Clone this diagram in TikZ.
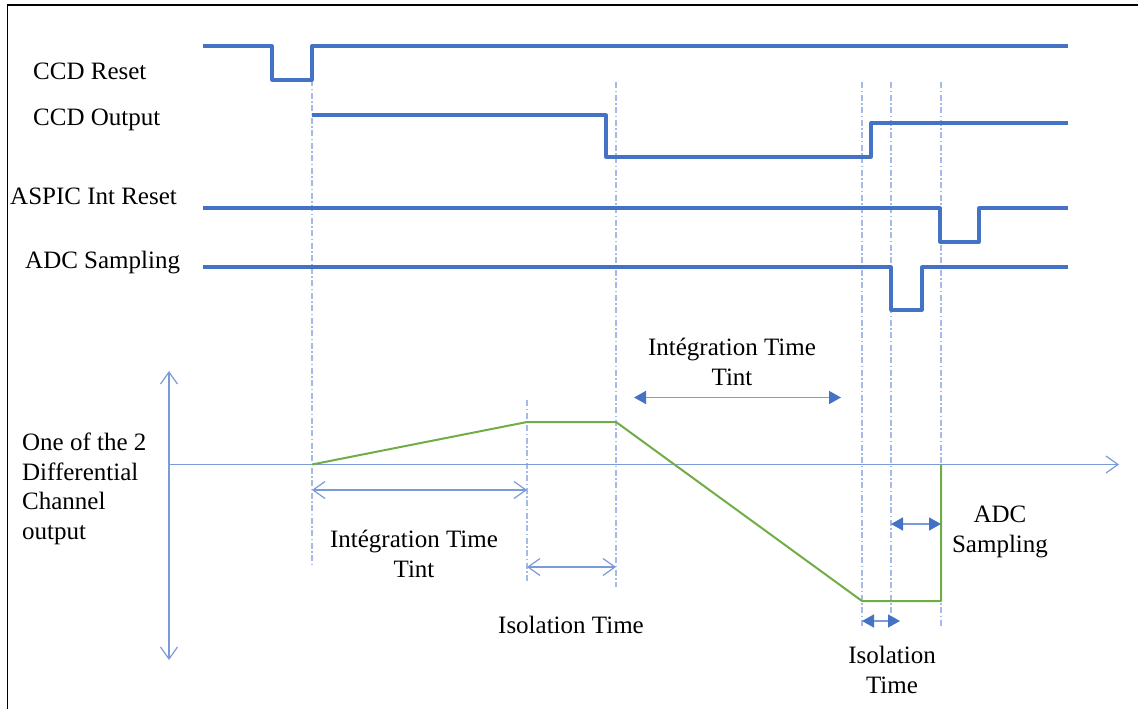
\documentclass[tikz,border=0pt]{standalone}
\usepackage{fontspec}
\setmainfont{Liberation Serif}
\usetikzlibrary{arrows.meta}
\definecolor{sigblue}{HTML}{4472C4}
\definecolor{axblue}{HTML}{7A9AD8}
\definecolor{dashblue}{HTML}{A3BBE6}
\definecolor{sgreen}{HTML}{70AD47}
\begin{document}
\begin{tikzpicture}[x=1pt,y=-1pt,
  sig/.style={sigblue, line width=3.2pt, line join=round},
  guide/.style={dashblue, line width=1.2pt, dash pattern=on 6pt off 2.5pt on 1.5pt off 2.5pt},
  axis/.style={axblue, line width=1.2pt},
  openarr/.style={axblue, line width=1.2pt, {Straight Barb[length=12pt,width=17pt]}-{Straight Barb[length=12pt,width=17pt]}},
  fillarr/.style={axblue, line width=1.6pt, {Triangle[length=12pt,width=13pt,color=sigblue]}-{Triangle[length=12pt,width=13pt,color=sigblue]}},
  wave/.style={sgreen, line width=2pt, line join=round},
  lbl/.style={font=\fontsize{25}{29.5}\selectfont, inner sep=0pt, text=black},
]
\useasboundingbox (0,0) rectangle (1138,709);
% frame
\draw[black, line width=1.8pt] (7.5,709) -- (7.5,5) -- (1138,5);

% guides
\draw[guide] (312,80) -- (312,567);
\draw[guide] (527,400) -- (527,583);
\draw[guide] (616,82) -- (616,587);
\draw[guide] (862,82) -- (862,628);
\draw[guide] (891,82) -- (891,628);
\draw[guide] (941,82) -- (941,628);

% digital signals
\draw[sig] (203,46) -- (272,46) -- (272,80) -- (312,80) -- (312,46) -- (1068,46);
\draw[sig] (312,115) -- (606,115) -- (606,157) -- (871,157) -- (871,123) -- (1068,123);
\draw[sig] (203,208) -- (940,208) -- (940,242) -- (979,242) -- (979,208) -- (1068,208);
\draw[sig] (203,267) -- (891,267) -- (891,310) -- (922,310) -- (922,267) -- (1068,267);

% signal labels
\node[lbl, anchor=base west] (lreset) at (33,79) {CCD Reset};
\node[lbl, anchor=base west] (lout) at (33,125) {CCD Output};
\node[lbl, anchor=base west] (laspic) at (10,204) {ASPIC Int Reset};
\node[lbl, anchor=base west] (ladc) at (25,268) {ADC Sampling};

% axes
\coordinate (ytop) at (169,371);
\coordinate (ybot) at (169,660);
\coordinate (xorg) at (169,464.5);
\coordinate (xend) at (1119,464.5);
\draw[axis, {Straight Barb[length=12pt,width=17pt]}-{Straight Barb[length=12pt,width=17pt]}] (ytop) -- (ybot);
\draw[axis, -{Straight Barb[length=12pt,width=17pt]}] (xorg) -- (xend);

% analog output
\draw[wave] (312,464.5) -- (527,422) -- (616,422) -- (862,601) -- (941,601) -- (941,464.5);

% time interval arrows
\coordinate (a1) at (312,490);  \coordinate (a2) at (527,490);
\coordinate (b1) at (527,567);  \coordinate (b2) at (616,567);
\coordinate (c1) at (634,397.5); \coordinate (c2) at (841,397.5);
\coordinate (d1) at (891,524);  \coordinate (d2) at (941,524);
\coordinate (e1) at (862,621);  \coordinate (e2) at (900,621);
\draw[openarr] (a1) -- (a2);
\draw[openarr] (b1) -- (b2);
\draw[fillarr] (c1) -- (c2);
\draw[fillarr] (d1) -- (d2);
\draw[fillarr] (e1) -- (e2);

% texts (base anchor = baseline of last line)
\node[lbl, anchor=base west, align=left] (lchan) at (22,539) {One of the 2\\Differential\\Channel\\output};
\node[lbl, anchor=base, align=center] (lint1) at (414,577) {Intégration Time\\Tint};
\node[lbl, anchor=base] (liso1) at (571,633) {Isolation Time};
\node[lbl, anchor=base, align=center] (lint2) at (732,385) {Intégration Time\\Tint};
\node[lbl, anchor=base, align=center] (ladcs) at (1000,552) {ADC\\Sampling};
\node[lbl, anchor=base, align=center] (liso2) at (892,693) {Isolation\\Time};
\end{tikzpicture}
\end{document}
